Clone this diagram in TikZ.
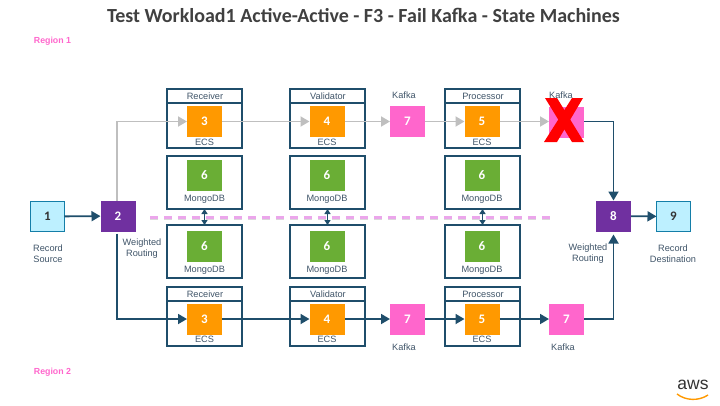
\documentclass[tikz,border=0pt]{standalone}
\usepackage{fontspec}
\setmainfont{Liberation Sans}
\newfontfamily\calibri{Carlito}
\usepackage{tikz}
\usetikzlibrary{arrows.meta}
\definecolor{awsnavy}{HTML}{1F4E6B}
\definecolor{lbltext}{HTML}{3F5468}
\definecolor{flowgray}{HTML}{BFBFBF}
\definecolor{ecsorange}{HTML}{FF9900}
\definecolor{mongogreen}{HTML}{6AAE35}
\definecolor{kafkapink}{HTML}{FF66CC}
\definecolor{routepurple}{HTML}{7030A0}
\definecolor{endblue}{HTML}{BDF0FF}
\definecolor{endline}{HTML}{147EA8}
\definecolor{regionline}{HTML}{EBA6EB}
\tikzstyle{every node}=[inner sep=0pt,outer sep=0pt]
\tikzstyle{service}=[draw=awsnavy,line width=1.8pt,minimum width=75pt,anchor=north west]
\tikzstyle{square}=[minimum width=35pt,minimum height=31pt,text=white,font=\calibri\bfseries\fontsize{13}{13}\selectfont]
\tikzstyle{ecs}=[square,fill=ecsorange]
\tikzstyle{mongo}=[square,fill=mongogreen]
\tikzstyle{kafka}=[square,fill=kafkapink]
\tikzstyle{route}=[square,fill=routepurple]
\tikzstyle{endpoint}=[square,fill=endblue,draw=endline,line width=0.75pt,text=black!80,minimum width=34pt,minimum height=30pt]
\tikzstyle{lbl}=[text=lbltext,align=center,font=\fontsize{9.2}{11}\selectfont]
\tikzstyle{region}=[text=kafkapink,font=\bfseries\fontsize{8.8}{9}\selectfont]
\tikzstyle{flow}=[draw=awsnavy,line width=1.8pt,-{Triangle[length=9pt,width=10pt]}]
\tikzstyle{flowoff}=[draw=flowgray,line width=1.8pt,-{Triangle[length=9pt,width=10pt]}]
\tikzstyle{link}=[draw=awsnavy,line width=1.5pt,{Triangle[length=5pt,width=6pt]}-{Triangle[length=5pt,width=6pt]}]
\begin{document}
\begin{tikzpicture}[x=1pt,y=-1pt]
  \useasboundingbox (0,0) rectangle (720,405);
  \node [font=\calibri\bfseries\fontsize{20}{22}\selectfont,text=black!75] (title) at (363.5,15) {Test Workload1 Active-Active - F3 - Fail Kafka - State Machines};
  \node [region] (region1) at (52.5,41) {Region 1};
  \node [region] (region2) at (52.5,372) {Region 2};
  % region border
  \coordinate (borderw) at (150,217);
  \coordinate (bordere) at (551,217);
  \draw [gray!30,line width=3pt,dash pattern=on 8pt off 6pt] ([yshift=-1.5pt]borderw) -- ([yshift=-1.5pt]bordere);
  \draw [regionline,line width=3pt,dash pattern=on 8pt off 6pt] (borderw) -- (bordere);
  % service boxes
  \foreach \name/\txt/\px in {rec/Receiver/167,val/Validator/290,pro/Processor/445} {
    \node [service,minimum height=59pt] (\name top) at (\px,89) {};
    \draw [awsnavy,line width=1.8pt] (\name top.north west) ++(0,14) -- ++(75,0);
    \node [lbl] (\name toplbl) at (\px+38,96.5) {\txt};
    \node [service,minimum height=53pt] (\name mua) at (\px,156) {};
    \node [service,minimum height=53pt] (\name mub) at (\px,225) {};
    \node [service,minimum height=59pt] (\name bot) at (\px,287) {};
    \draw [awsnavy,line width=1.8pt] (\name bot.north west) ++(0,14) -- ++(75,0);
    \node [lbl] (\name botlbl) at (\px+38,294) {\txt};
    \draw [link] (\name mua.south) -- (\name mub.north);
  }
  % squares in the boxes
  \foreach \name/\num/\cx in {rec/3/204.5,val/4/327,pro/5/482} {
    \node [ecs] (\name a) at (\cx,121.5) {\num};
    \node [lbl] (\name alabel) at (\cx,142) {ECS};
    \node [mongo] (\name ma) at (\cx,175.5) {6};
    \node [lbl] (\name malabel) at (\cx,199) {MongoDB};
    \node [mongo] (\name mb) at (\cx,246) {6};
    \node [lbl] (\name mblabel) at (\cx,270) {MongoDB};
    \node [ecs] (\name b) at (\cx,319) {\num};
    \node [lbl] (\name blabel) at (\cx,339) {ECS};
  }
  \node [endpoint] (src) at (47.5,216.5) {1};
  \node [lbl] (srclabel) at (48,253.5) {Record\\Source};
  \node [route] (splitter) at (118,216) {2};
  \node [lbl] (splitlabel) at (142,248.5) {Weighted\\Routing};
  \node [kafka] (kafkaa) at (407.5,121.5) {7};
  \node [lbl] (kafkaalabel) at (404,95) {Kafka};
  \node [kafka] (kafkab) at (566.5,122.5) {};
  \node [kafka] (kafkac) at (407.5,319) {7};
  \node [lbl] (kafkaclabel) at (404,347) {Kafka};
  \node [kafka] (kafkad) at (566.5,319.5) {7};
  \node [lbl] (kafkadlabel) at (563,347) {Kafka};
  \node [route] (merger) at (613.5,216) {8};
  \node [lbl] (mergelabel) at (588,253.5) {Weighted\\Routing};
  \node [endpoint] (dst) at (673.5,216.5) {9};
  \node [lbl] (dstlabel) at (673,253.5) {Record\\Destination};
  % region 1 flow
  \draw [flowoff] ([xshift=-1pt]splitter.north) |- (reca.west);
  \draw [flowoff] (reca) -- (vala);
  \draw [flowoff] (vala) -- (kafkaa);
  \draw [flowoff] (kafkaa) -- (proa);
  \draw [flowoff] (proa) -- (kafkab.west |- proa);
  % region 2 flow
  \draw [flow] ([xshift=-1pt,yshift=-2pt]splitter.south) |- (recb.west);
  \draw [flow] (recb) -- (valb);
  \draw [flow] (valb) -- (kafkac);
  \draw [flow] (kafkac) -- (prob);
  \draw [flow] (prob) -- (kafkad.west |- prob);
  \draw [flow] (kafkab.east |- proa) -| (merger.north);
  \draw [flow] (kafkad.east |- prob) -| ([yshift=-3pt]merger.south);
  \draw [flow] (src) -- (splitter);
  \draw [flow] (merger) -- (dst);
  % failed kafka
  \fill [red] (545,98) -- (557,98) -- (584,142) -- (572,142) -- cycle;
  \fill [red] (583,98) -- (572,98) -- (544,142) -- (557,142) -- cycle;
  \node [lbl] (kafkablabel) at (561,95) {Kafka};
  % logo
  \node [font=\fontsize{17.5}{18}\selectfont,text=black!80] (logo) at (693,385) {aws};
  \coordinate (smilea) at (677,394);
  \coordinate (smileb) at (708,395);
  \draw [ecsorange,line width=1.4pt] (smilea) .. controls (686,401) and (699,401) .. (smileb);
\end{tikzpicture}
\end{document}
